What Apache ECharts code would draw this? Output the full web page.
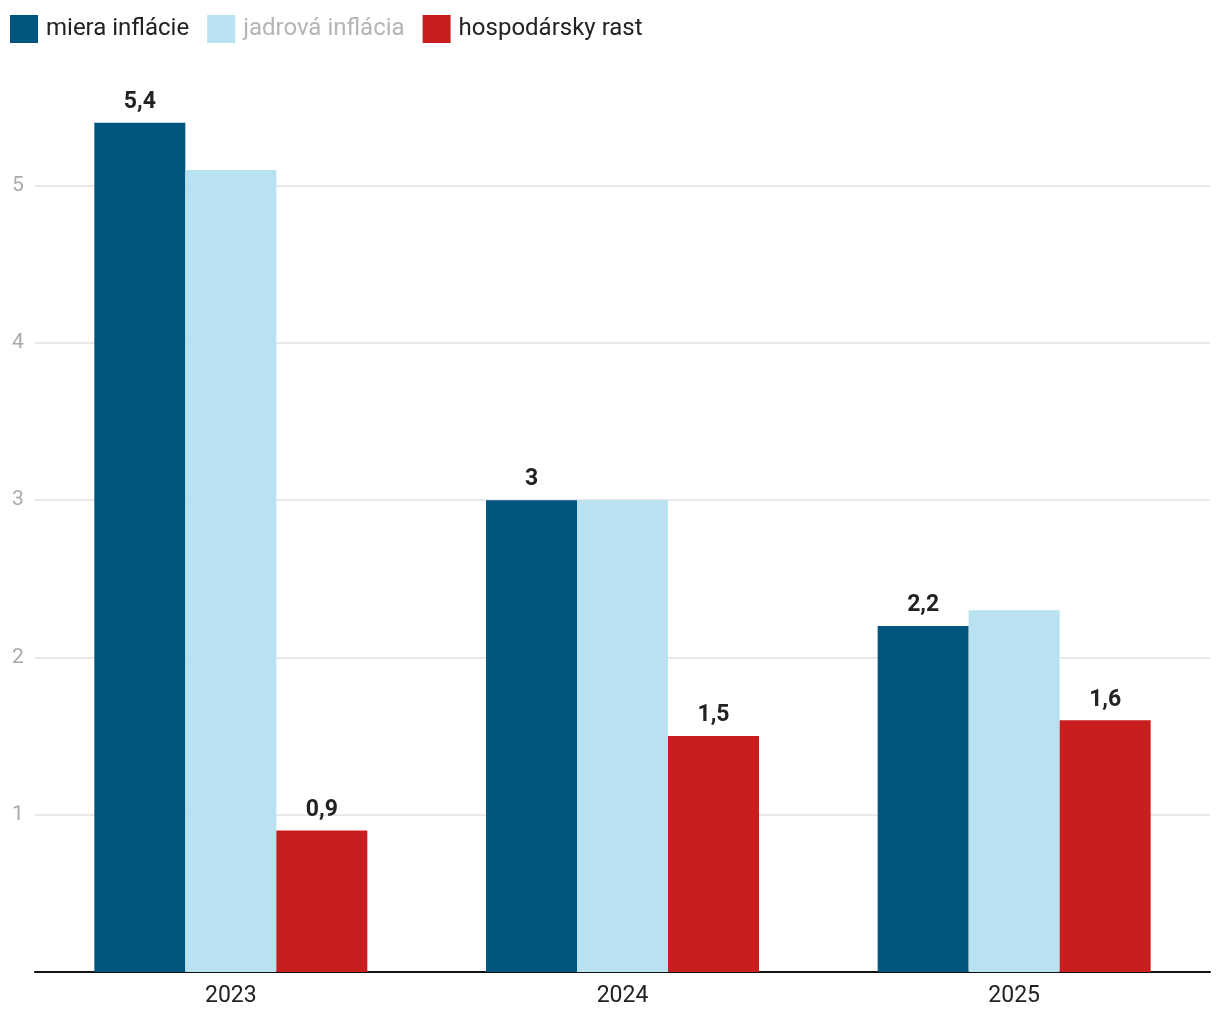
<!DOCTYPE html>
<html><head><meta charset="utf-8">
<script src="https://cdn.jsdelivr.net/npm/echarts@6/dist/echarts.min.js"></script>
<style>html,body{margin:0;padding:0;background:#fff}#c{width:1220px;height:1020px}</style>
</head><body><div id="c"></div>
<script>
const categories = ['2023', '2024', '2025'];
const mieraInflacie = [5.4, 3, 2.2];
const jadrovaInflacia = [5.1, 3, 2.3];
const hospodarskyRast = [0.9, 1.5, 1.6];
const seriesNames = ['miera inflácie', 'jadrová inflácia', 'hospodársky rast'];

const fmt = p => String(p.value).replace('.', ',');
const lbl = {show: true, position: 'top', distance: 9, formatter: fmt,
  fontFamily: 'Roboto', fontWeight: 'bold', fontSize: 23, color: '#222'};

const chart = echarts.init(document.getElementById('c'));
chart.setOption({
  animation: false,
  textStyle: {fontFamily: 'Roboto'},
  legend: {
    left: 5, top: 10, itemWidth: 28, itemHeight: 28, itemGap: 18,
    icon: 'rect',
    textStyle: {fontSize: 24, color: '#222', fontFamily: 'Roboto', padding: [0, 0, 0, 3]},
    data: [
      {name: seriesNames[0]},
      {name: seriesNames[1], textStyle: {color: '#b5b5b5'}},
      {name: seriesNames[2]}
    ]
  },
  grid: {left: 35, right: 10, top: 107, bottom: 48, containLabel: false},
  xAxis: {
    type: 'category', data: categories,
    axisLine: {lineStyle: {color: '#111', width: 2}},
    axisTick: {show: false},
    axisLabel: {fontSize: 23, color: '#222', margin: 13}
  },
  yAxis: {
    type: 'value', min: 0, max: 5.5, interval: 1,
    axisLine: {show: false}, axisTick: {show: false},
    axisLabel: {fontSize: 21, color: '#aaa', margin: 17, align: 'center',
      showMinLabel: false, showMaxLabel: false,
      formatter: v => (v === 0 || v > 5) ? '' : String(v)},
    splitLine: {lineStyle: {color: '#e2e2e2', width: 1.5}, showMinLine: false, showMaxLine: false}
  },
  series: [
    {name: seriesNames[0], type: 'bar', data: mieraInflacie, barWidth: 91, barGap: '0%',
      itemStyle: {color: '#00557d'}, label: lbl},
    {name: seriesNames[1], type: 'bar', data: jadrovaInflacia, barWidth: 91, barGap: '0%',
      itemStyle: {color: '#b9e2f0'}},
    {name: seriesNames[2], type: 'bar', data: hospodarskyRast, barWidth: 91, barGap: '0%',
      itemStyle: {color: '#c91e1f'}, label: lbl}
  ]
});
</script></body></html>
